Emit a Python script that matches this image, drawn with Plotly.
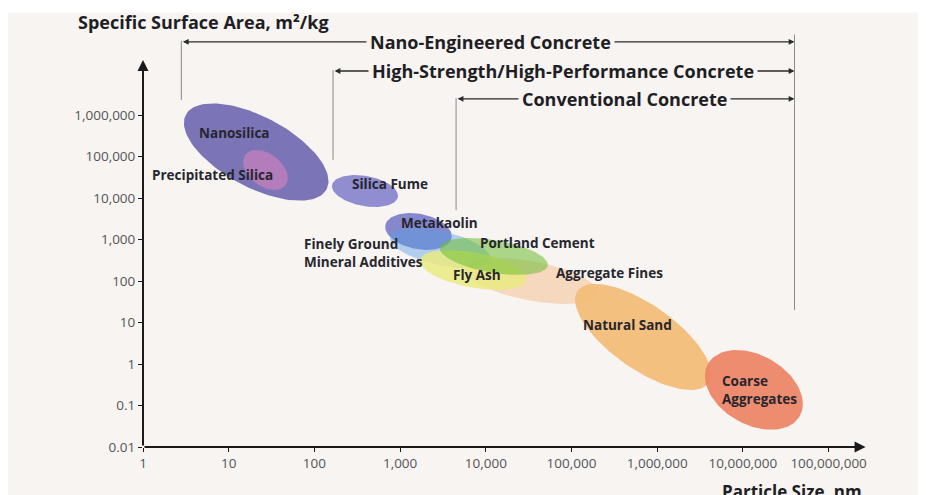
import numpy as np
import plotly.graph_objects as go

# ---------------- data ----------------
materials = ["Aggregate Fines", "Natural Sand", "Coarse Aggregates", "Metakaolin",
             "Finely Ground Mineral Additives", "Fly Ash", "Portland Cement",
             "Silica Fume", "Nanosilica", "Precipitated Silica"]
size_min_nm = [5700, 110000, 3.6e6, 670, 760, 1700, 2900, 160, 3.0, 14.7]
size_max_nm = [204000, 4.25e6, 5.0e7, 4000, 11200, 30000, 53000, 945, 146, 49]
ssa_min = [28, 0.236, 0.026, 558, 206, 61, 140, 6070, 8650, 15600]
ssa_max = [358, 85, 2.17, 4350, 1890, 558, 1090, 35800, 1.9e6, 143600]
tilt = [0.5, 0.7, 0.35, 0.25, 0.5, 0.45, 0.45, 0.3, 0.6, 0.4]

fill_colors = ["rgba(246,214,188,0.95)", "rgba(243,187,118,0.93)", "rgba(236,134,102,0.95)",
               "rgba(126,130,202,0.95)", "rgba(90,160,230,0.45)", "rgba(234,234,128,0.85)",
               "rgba(110,190,50,0.55)", "rgba(138,135,206,0.95)", "rgba(119,113,181,0.97)",
               "rgba(182,124,186,0.95)"]

label_text = ["Aggregate Fines", "Natural Sand", "Coarse<br>Aggregates", "Metakaolin",
              "Finely Ground<br>Mineral Additives", "Fly Ash", "Portland Cement",
              "Silica Fume", "Nanosilica", "Precipitated Silica"]
label_x_nm = [281000, 456000, 5.4e6, 2850, 72, 7900, 40600, 762, 11.8, 6.4]
label_y_ssa = [156, 8.7, 0.236, 2500, 473, 140, 824, 21700, 368000, 35800]
label_anchor = ["center", "center", "left", "center", "left", "center", "center",
                "center", "center", "center"]

x_tick_vals = [1, 10, 100, 1e3, 1e4, 1e5, 1e6, 1e7, 1e8]
x_tick_text = ["1", "10", "100", "1,000", "10,000", "100,000", "1,000,000",
               "10,000,000", "100,000,000"]
y_tick_vals = [0.01, 0.1, 1, 10, 100, 1e3, 1e4, 1e5, 1e6]
y_tick_text = ["0.01", "0.1", "1", "10", "100", "1,000", "10,000", "100,000", "1,000,000"]

# concrete classes: particle-size range start, common end, arrow level
concrete_names = ["Nano-Engineered Concrete", "High-Strength/High-Performance Concrete",
                  "Conventional Concrete"]
concrete_start_nm = [2.8, 165, 4500]
concrete_end_nm = 4.0e7
concrete_level = [5.8e7, 1.15e7, 2.45e6]
concrete_text_nm = [11200, 80000, 420000]
concrete_guide_bottom = [2.3e6, 8.3e4, 5.1e3]
end_guide_bottom = 20

x_axis_end = 2.7e8
y_axis_end = 2.1e7

# ---------------- figure ----------------
fig = go.Figure()
t = np.linspace(0, 2 * np.pi, 121)
for i, name in enumerate(materials):
    lx0, lx1 = np.log10(size_min_nm[i]), np.log10(size_max_nm[i])
    ly0, ly1 = np.log10(ssa_min[i]), np.log10(ssa_max[i])
    cx, hw = (lx0 + lx1) / 2, (lx1 - lx0) / 2
    cy, hh = (ly0 + ly1) / 2, (ly1 - ly0) / 2
    phi = np.arccos(tilt[i])
    xs = 10 ** (cx + hw * np.cos(t))
    ys = 10 ** (cy - hh * np.cos(t + phi))
    fig.add_trace(go.Scatter(x=xs, y=ys, mode="lines", fill="toself",
                             fillcolor=fill_colors[i], line=dict(width=0),
                             hoverinfo="skip", showlegend=False, name=name))

FONT = "Open Sans, Arial, sans-serif"
LBL = dict(family=FONT, size=13.5, color="#26262e")
for i in range(len(materials)):
    fig.add_annotation(x=np.log10(label_x_nm[i]), y=np.log10(label_y_ssa[i]),
                       text="<b>%s</b>" % label_text[i], showarrow=False,
                       xanchor=label_anchor[i], align="left", font=LBL)

# axes drawn as arrows
fig.add_annotation(x=np.log10(x_axis_end), y=-2, ax=0, ay=-2, axref="x", ayref="y",
                   text="", showarrow=True, arrowhead=2, arrowsize=1.1, arrowwidth=2,
                   arrowcolor="#1a1a1a", standoff=0)
fig.add_annotation(x=0, y=np.log10(y_axis_end), ax=0, ay=-2, axref="x", ayref="y",
                   text="", showarrow=True, arrowhead=2, arrowsize=1.1, arrowwidth=2,
                   arrowcolor="#1a1a1a", standoff=0)

# concrete-class range arrows
BG = "#f7f4f2"
for i, nm in enumerate(concrete_names):
    ly = np.log10(concrete_level[i])
    fig.add_annotation(x=np.log10(concrete_end_nm), y=ly,
                       ax=np.log10(concrete_start_nm[i]), ay=ly, axref="x", ayref="y",
                       text="", showarrow=True, arrowhead=2, startarrowhead=2,
                       arrowside="end+start", arrowsize=0.9, startarrowsize=0.9,
                       arrowwidth=1.3, arrowcolor="#2a2a2a", standoff=0, startstandoff=0)
    fig.add_annotation(x=np.log10(concrete_text_nm[i]), y=ly,
                       text="<b>%s</b>" % nm, showarrow=False, bgcolor=BG, borderpad=3,
                       font=dict(family=FONT, size=18, color="#1e1e24"))
    fig.add_shape(type="line", xref="x", yref="y",
                  x0=concrete_start_nm[i], x1=concrete_start_nm[i],
                  y0=concrete_guide_bottom[i], y1=concrete_level[i] * 1.05,
                  line=dict(color="#8a8a8a", width=1), layer="below")
fig.add_shape(type="line", xref="x", yref="y", x0=concrete_end_nm, x1=concrete_end_nm,
              y0=end_guide_bottom, y1=concrete_level[0] * 1.5,
              line=dict(color="#8a8a8a", width=1), layer="below")

# axis titles
fig.add_annotation(xref="paper", yref="paper", x=-0.088, y=0.972, xanchor="left",
                   yanchor="middle", text="<b>Specific Surface Area, m²/kg</b>",
                   showarrow=False, font=dict(family=FONT, size=18, color="#1e1e24"))
fig.add_annotation(xref="paper", yref="paper", x=0.857, y=-0.072, xanchor="center",
                   yanchor="top", text="<b>Particle Size, nm</b>", showarrow=False,
                   font=dict(family=FONT, size=17, color="#1e1e24"))

TICKF = dict(family=FONT, size=13.5, color="#555555")
fig.update_xaxes(type="log", range=[0, 8.833], showgrid=False, zeroline=False,
                 showline=False, tickvals=x_tick_vals, ticktext=x_tick_text,
                 ticks="outside", ticklen=4, tickcolor="#1a1a1a", tickfont=TICKF)
fig.update_yaxes(type="log", range=[-2, 8.53], showgrid=False, zeroline=False,
                 showline=False, tickvals=y_tick_vals, ticktext=y_tick_text,
                 ticks="outside", ticklen=4, tickcolor="#1a1a1a", tickfont=TICKF)

# page body adds an 8px offset, so the figure is 8px smaller and its margins shifted
fig.update_layout(width=918, height=487, margin=dict(l=135, r=26, t=2, b=48, autoexpand=False),
                  paper_bgcolor=BG, plot_bgcolor=BG, showlegend=False)
fig.add_shape(type="rect", xref="paper", yref="paper", x0=-0.2, x1=1.1, y0=0.994, y1=1.05,
              fillcolor="#ffffff", line=dict(width=0), layer="below")

fig.write_html("out.html")
